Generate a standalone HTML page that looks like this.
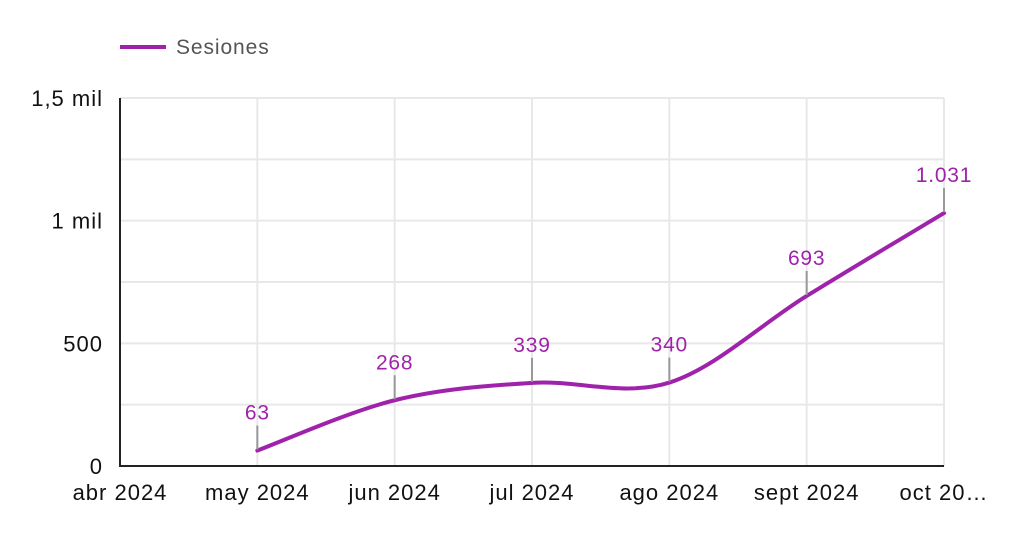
<!DOCTYPE html>
<html><head><meta charset="utf-8"><style>
body{margin:0;background:#fff;}
svg{display:block;font-family:"Liberation Sans",sans-serif;}
</style></head><body>
<svg id="chart" width="1024" height="538">
<g>
<line x1="120" y1="47" x2="166" y2="47" stroke="#9f23aa" stroke-width="4"/>
<text x="176" y="54" font-size="21" letter-spacing="0.9" fill="#555">Sesiones</text>
</g>
<g id="grid"></g>
<g id="axes"></g>
<path id="line" fill="none" stroke="#9f23aa" stroke-width="4" stroke-linecap="round"/>
<g id="labels"></g>
</svg>
<script>
const categories=["abr 2024","may 2024","jun 2024","jul 2024","ago 2024","sept 2024","oct 20…"];
const sessions=[null,63,268,339,340,693,1031];
const valueLabels=["","63","268","339","340","693","1.031"];
const yTicks=[0,500,1000,1500];
const yTickLabels=["0","500","1 mil","1,5 mil"];
const yMinor=[250,750,1250];
const NS="http://www.w3.org/2000/svg";
const x0=120,x1=944,yBase=466,yTop=98,yMax=1500;
const X=i=>x0+(x1-x0)*i/(categories.length-1);
const Y=v=>yBase-(yBase-yTop)*v/yMax;
function mk(tag,attrs,parent){const e=document.createElementNS(NS,tag);for(const k in attrs)e.setAttribute(k,attrs[k]);parent.appendChild(e);return e;}
const grid=document.getElementById('grid'),axes=document.getElementById('axes'),labels=document.getElementById('labels');
yTicks.concat(yMinor).forEach(v=>{if(v===0)return;const l=mk('line',{x1:x0,x2:x1,y1:Y(v),y2:Y(v),stroke:'#e8e8e8','stroke-width':2},grid);

});
categories.forEach((c,i)=>{if(i>0){const l=mk('line',{x1:X(i),x2:X(i),y1:yTop,y2:yBase,stroke:'#e8e8e8','stroke-width':2},grid);

}
const t=mk('text',{x:X(i),y:500,'font-size':22,'letter-spacing':1,'text-anchor':'middle',fill:'#111'},axes);t.textContent=c;

});
yTicks.forEach((v,i)=>{const t=mk('text',{x:103,y:Y(v)+8,'font-size':22,'letter-spacing':1,'text-anchor':'end',fill:'#111'},axes);t.textContent=yTickLabels[i];

});
let a=mk('line',{x1:x0,x2:x0,y1:yTop,y2:yBase+1,stroke:'#222','stroke-width':2},axes);


a=mk('line',{x1:x0,x2:x1,y1:yBase,y2:yBase,stroke:'#222','stroke-width':2},axes);


const pts=[];sessions.forEach((v,i)=>{if(v!==null)pts.push([X(i),Y(v)]);});
let d='M'+pts[0][0]+','+pts[0][1];
for(let i=0;i<pts.length-1;i++){const p0=pts[Math.max(0,i-1)],p1=pts[i],p2=pts[i+1],p3=pts[Math.min(pts.length-1,i+2)];
const c1=[p1[0]+(p2[0]-p0[0])/6,p1[1]+(p2[1]-p0[1])/6],c2=[p2[0]-(p3[0]-p1[0])/6,p2[1]-(p3[1]-p1[1])/6];
d+=' C'+c1+' '+c2+' '+p2;}
document.getElementById('line').setAttribute('d',d);
sessions.forEach((v,i)=>{if(v===null)return;const x=X(i),y=Y(v);
const l=mk('line',{x1:x,x2:x,y1:y-1,y2:y-25,stroke:'#999','stroke-width':2},labels);


const t=mk('text',{x:x,y:y-31,'font-size':21,'letter-spacing':0.8,'text-anchor':'middle',fill:'#9f23aa'},labels);t.textContent=valueLabels[i];

});
</script>
</body></html>
